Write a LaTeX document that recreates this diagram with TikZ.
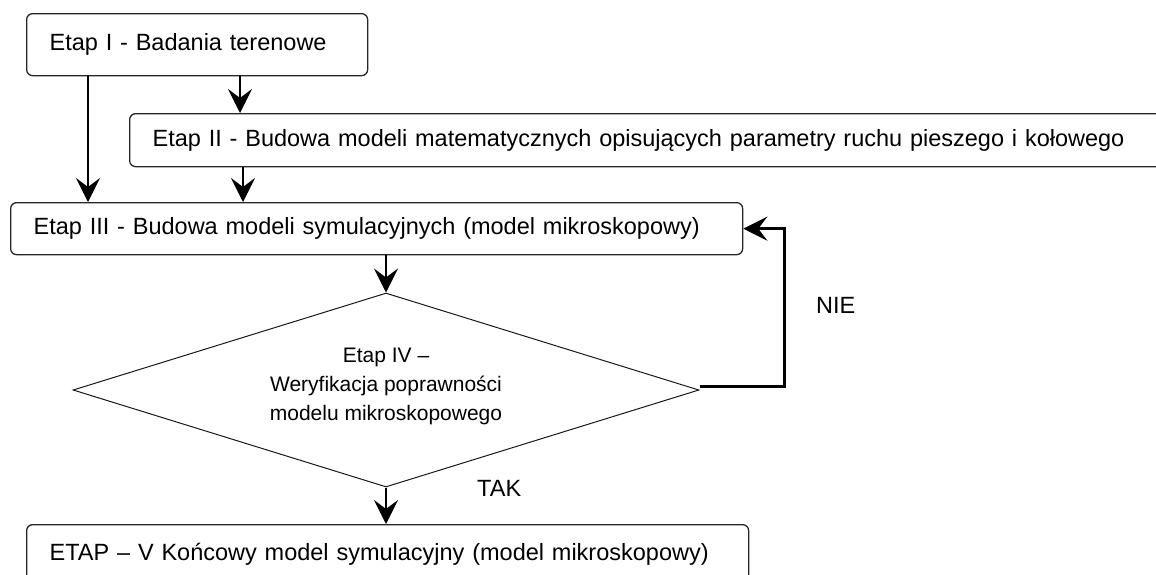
\documentclass[tikz,border=0pt]{standalone}
\usepackage{fontspec}
\setmainfont{Liberation Sans}
\usetikzlibrary{arrows.meta,shapes.geometric,calc}
\begin{document}
\begin{tikzpicture}[x=1pt,y=-1pt,
  box/.style={draw=black!85, rounded corners=6pt, line width=1.3pt, anchor=north west,
    inner xsep=23pt, inner ysep=0pt, align=left,
    font=\fontsize{23.5}{28}\selectfont, text height=17pt, text depth=5pt},
  arr/.style={line width=2.6pt, -{Stealth[length=24pt,width=24pt,inset=9pt]}},
  fb/.style={line width=3pt, -{Stealth[length=24pt,width=24pt,inset=9pt]}},
  dtext/.style={align=center, inner sep=0pt, font=\fontsize{21}{29}\selectfont},
  lbl/.style={inner sep=0pt, anchor=base west, font=\fontsize{23.5}{28}\selectfont}
]
\useasboundingbox (0,0) rectangle (1156,574);
\clip (0,0) rectangle (1156,574);

\node[box, minimum width=341pt, minimum height=62pt, text width=295pt] (b1) at (26,13) {Etap I - Badania terenowe};
\node[box, minimum width=1050pt, minimum height=53pt, text width=1004pt] (b2) at (129,113) {Etap II - Budowa modeli matematycznych opisujących parametry ruchu pieszego i kołowego};
\node[box, minimum width=732pt, minimum height=52pt, text width=686pt] (b3) at (10,202) {Etap III - Budowa modeli symulacyjnych (model mikroskopowy)};
\node[diamond, draw=black!90, line width=1pt, minimum width=626pt, minimum height=194pt, inner sep=0pt] (d) at (386,390) {};
\node[dtext] (dt) at (386,386) {Etap IV --\\Weryfikacja poprawności\\modelu mikroskopowego};
\node[box, minimum width=722pt, minimum height=60pt, text width=676pt] (b5) at (26,524) {ETAP -- V Końcowy model symulacyjny (model mikroskopowy)};

\coordinate (xa) at (88,0);
\coordinate (xb) at (240,0);
\coordinate (xc) at (243,0);

\draw[arr] (b1.south -| xa) -- (b3.north -| xa);
\draw[arr] (b1.south -| xb) -- (b2.north -| xb);
\draw[arr] (b2.south -| xc) -- (b3.north -| xc);
\draw[arr] (d.north |- b3.south) -- (d.north);
\draw[arr] (d.south) -- (d.south |- b5.north);
\draw[fb] ([yshift=4pt]d.east) -- ++(85,0) |- (b3.east);

\node[lbl] (nie) at (816,313) {NIE};
\node[lbl] (tak) at (477,496) {TAK};
\end{tikzpicture}
\end{document}
